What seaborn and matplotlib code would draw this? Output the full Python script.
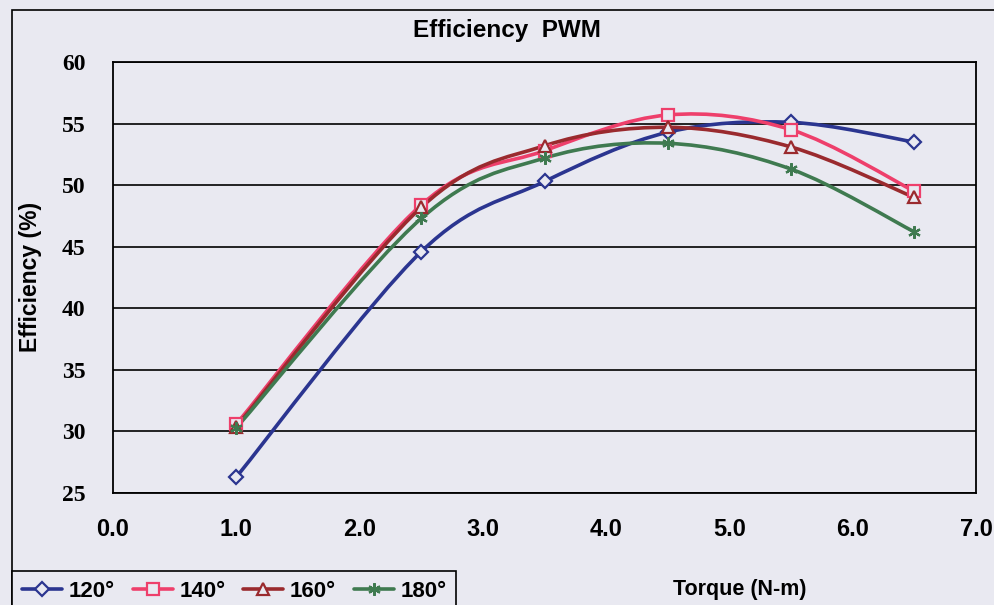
import matplotlib
matplotlib.use("Agg")
import matplotlib.pyplot as plt
import numpy as np
import pandas as pd
import seaborn as sns
from matplotlib.lines import Line2D
from matplotlib.patches import PathPatch, Rectangle
from matplotlib.path import Path

# data
torque = [1.0, 2.5, 3.5, 4.5, 5.5, 6.5]
eff_120 = [26.3, 44.6, 50.3, 54.3, 55.1, 53.5]
eff_140 = [30.6, 48.4, 52.8, 55.7, 54.5, 49.5]
eff_160 = [30.4, 48.2, 53.2, 54.7, 53.1, 49.0]
eff_180 = [30.3, 47.3, 52.2, 53.4, 51.3, 46.2]
angles = ["120°", "140°", "160°", "180°"]

colors = ["#2B3590", "#EE3F6B", "#9A2A2E", "#3F7A50"]
markers = ["D", "s", "^", (6, 2, 0)]
msizes = [7, 8, 8, 9]
bg = "#E9E9F1"

sns.set_style("white")
plt.rcParams["font.family"] = ["Liberation Sans", "DejaVu Sans"]
plt.rcParams["text.color"] = "black"
plt.rcParams["xtick.color"] = "black"
plt.rcParams["ytick.color"] = "black"
plt.rcParams["axes.labelcolor"] = "black"

fig = plt.figure(figsize=(9.95, 6.05), dpi=100, facecolor=bg)
ax = fig.add_axes([0.1136, 0.185, 0.8674, 0.7125])
ax.set_facecolor(bg)


def smooth_path(xs, ys):
    # catmull-rom style bezier, like excel's smoothed line
    pts = np.column_stack([xs, ys])
    ext = np.vstack([pts[0], pts, pts[-1]])
    verts = [pts[0]]
    codes = [Path.MOVETO]
    for i in range(len(pts) - 1):
        p0, p1, p2, p3 = ext[i], ext[i + 1], ext[i + 2], ext[i + 3]
        verts += [p1 + (p2 - p0) / 6, p2 - (p3 - p1) / 6, p2]
        codes += [Path.CURVE4] * 3
    return Path(verts, codes)


series = [eff_120, eff_140, eff_160, eff_180]
for vals, c, m, s in zip(series, colors, markers, msizes):
    ax.add_patch(PathPatch(smooth_path(torque, vals), fill=False,
                           edgecolor=c, lw=2.6, zorder=3))
    df = pd.DataFrame({"torque": torque, "eff": vals})
    sns.lineplot(data=df, x="torque", y="eff", color=c, marker=m, ms=s,
                 mfc=bg, mec=c, mew=1.6, lw=0, legend=False, ax=ax,
                 zorder=4)

ax.set_xlim(0, 7)
ax.set_ylim(25, 60)
ax.set_xticks(np.arange(0, 7.5, 1.0))
ax.set_xticklabels([f"{v:.1f}" for v in np.arange(0, 7.5, 1.0)],
                   fontsize=17, fontweight="bold")
ax.set_yticks(np.arange(25, 61, 5))
ax.set_yticklabels([str(v) for v in range(25, 61, 5)], fontsize=17,
                   fontweight="bold", family=["Liberation Serif", "DejaVu Serif"])
ax.yaxis.grid(True, color="black", lw=1.2)
ax.set_axisbelow(True)
for sp in ax.spines.values():
    sp.set_color("black")
    sp.set_linewidth(1.3)
ax.tick_params(axis="x", direction="out", length=7, width=1.3, pad=11)
ax.tick_params(axis="y", direction="inout", length=12, width=1.3, pad=14)

ax.set_xlabel("")
ax.set_ylabel("Efficiency (%)", fontsize=16.5, fontweight="bold")
ax.yaxis.set_label_coords((42 - 113) / 863, 1 - (277 - 62) / 431)

fig.text(507 / 995, 1 - 31 / 605, "Efficiency  PWM", ha="center",
         va="center", fontsize=17.5, fontweight="bold")
fig.text(740 / 995, 1 - 590 / 605, "Torque (N-m)", ha="center",
         va="center", fontsize=15.5, fontweight="bold")

# chart outer border
fig.add_artist(Rectangle((12 / 995, -0.01), 1.0, 1 - 10 / 605 + 0.01,
                         transform=fig.transFigure, fill=False,
                         edgecolor="black", lw=1.2))

handles = [Line2D([0], [0], color=c, marker=m, ms=s, mfc=bg, mec=c, mew=1.6,
                  lw=2.6) for c, m, s in zip(colors, markers, msizes)]
leg = fig.legend(handles, angles, loc="lower left",
                 bbox_to_anchor=(12 / 995, -0.012), ncol=4, frameon=True,
                 fancybox=False, edgecolor="black", facecolor=bg,
                 framealpha=1, prop={"size": 16, "weight": "bold"},
                 handlelength=1.8, handletextpad=0.3, columnspacing=0.8,
                 borderpad=0.45, borderaxespad=0)
leg.get_frame().set_linewidth(1.2)

fig.savefig("out.png", dpi=100, facecolor=bg)
